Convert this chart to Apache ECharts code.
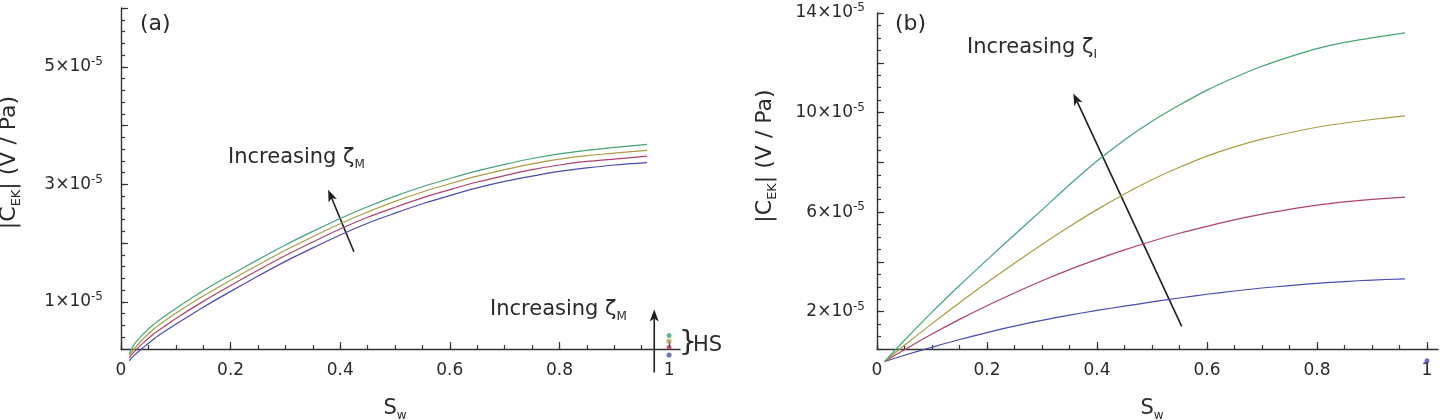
<!DOCTYPE html>
<html>
<head>
<meta charset="utf-8">
<script src="https://cdn.jsdelivr.net/npm/echarts@6/dist/echarts.min.js"></script>
<style>
  html, body { margin: 0; padding: 0; background: #fff; }
  #main { width: 1446px; height: 420px; }
</style>
</head>
<body>
<div id="main"></div>
<script>
// values of |C_EK| are in units of 1e-5 V/Pa

// panel (a): increasing zeta_M
var swA = [0.015, 0.025, 0.04, 0.06, 0.08, 0.1, 0.15, 0.2, 0.25, 0.3, 0.35, 0.4, 0.45, 0.5,
           0.55, 0.6, 0.65, 0.7, 0.75, 0.8, 0.85, 0.9, 0.96];
var aBlue  = [0.00, 0.10, 0.22, 0.37, 0.50, 0.62, 0.91, 1.18, 1.44, 1.69, 1.92, 2.14, 2.34, 2.51,
              2.67, 2.81, 2.94, 3.05, 3.14, 3.22, 3.28, 3.33, 3.37];
var aRed   = [0.05, 0.16, 0.30, 0.46, 0.59, 0.72, 1.01, 1.28, 1.54, 1.79, 2.02, 2.24, 2.44, 2.61,
              2.77, 2.91, 3.04, 3.15, 3.25, 3.33, 3.39, 3.43, 3.48];
var aOlive = [0.09, 0.21, 0.37, 0.54, 0.68, 0.81, 1.10, 1.37, 1.63, 1.88, 2.11, 2.33, 2.53, 2.71,
              2.87, 3.01, 3.14, 3.25, 3.35, 3.43, 3.49, 3.53, 3.58];
var aGreen = [0.12, 0.29, 0.45, 0.62, 0.76, 0.89, 1.19, 1.46, 1.72, 1.97, 2.20, 2.42, 2.62, 2.80,
              2.96, 3.10, 3.23, 3.34, 3.44, 3.52, 3.58, 3.63, 3.68];
// HS points at Sw = 1 (blue, red, olive, green)
var hsA = [0.10, 0.23, 0.33, 0.43];

// panel (b): increasing zeta_I
var swB = [0.014, 0.05, 0.1, 0.15, 0.2, 0.25, 0.3, 0.35, 0.4, 0.45, 0.5,
           0.55, 0.6, 0.65, 0.7, 0.75, 0.8, 0.85, 0.9, 0.96];
var bBlue  = [0, 0.25, 0.57, 0.88, 1.16, 1.42, 1.65, 1.86, 2.05, 2.22, 2.39,
              2.55, 2.70, 2.83, 2.95, 3.05, 3.14, 3.21, 3.27, 3.32];
var bRed   = [0, 0.47, 1.10, 1.69, 2.24, 2.75, 3.24, 3.69, 4.10, 4.48, 4.83,
              5.15, 5.43, 5.69, 5.92, 6.11, 6.28, 6.41, 6.51, 6.60];
var bOlive = [0, 0.65, 1.52, 2.36, 3.17, 3.95, 4.70, 5.42, 6.10, 6.73, 7.30,
              7.80, 8.25, 8.62, 8.93, 9.19, 9.41, 9.58, 9.72, 9.87];
var bGreen = [0, 0.85, 1.98, 3.05, 4.08, 5.09, 6.09, 7.10, 8.05, 8.90, 9.65,
              10.30, 10.90, 11.41, 11.86, 12.24, 12.57, 12.82, 13.00, 13.20];
var hsB = [0.03];

// ticks
var yLabelA = [1, 3, 5];
var yLabelB = [2, 6, 10, 14];

// arrows, in data coords [x1, y1, x2, y2]
var arrowA1 = [0.425, 1.855, 0.378, 2.91];
var arrowA2 = [0.973, -0.2, 0.973, 0.87];
var arrowB  = [0.554, 1.41, 0.357, 10.77];

var colors = ['#4b4bb4', '#b0406e', '#aa9c44', '#44a474'];
var FONT = 'DejaVu Sans';
var INK = '#2a2a2a';
var axisColor = '#333';

// plot frames
var A = { left: 121, top: 8, width: 559, height: 341, xmax: 1.02, ymin: 0.2, ymax: 6 };
var B = { left: 877, top: 13, width: 561, height: 336, xmax: 1.02, ymin: 0.5, ymax: 14 };

function pair(xs, ys) {
    return xs.map(function (x, i) { return [x, ys[i]]; });
}

function baseGrid(l, t, w, h) {
    return { left: l, top: t, width: w, height: h, containLabel: false, outerBoundsMode: 'none' };
}

function tickStyle(len) {
    return { show: true, inside: true, length: len, lineStyle: { color: axisColor, width: 1.2 } };
}

// empty labels keep the ticks drawn
var noLabel = { show: true, formatter: function () { return ''; } };

var labelRich = {
    b: { fontSize: 17, fontFamily: FONT, color: INK, lineHeight: 22 },
    s: { fontSize: 12, fontFamily: FONT, color: INK, lineHeight: 12, verticalAlign: 'top' }
};

var grids = [], xAxes = [], yAxes = [];

function panel(P, yMajorStep, yMinorStep, yLabels, labelMargin, nameShift) {
    var g = grids.length;
    // main frame: axis lines, y minor ticks
    grids.push(baseGrid(P.left, P.top, P.width, P.height));
    // x ticks / labels on [0, 1]
    grids.push(baseGrid(P.left, P.top, P.width / P.xmax, P.height));
    // y major ticks / labels from the first major to the top
    var firstMajor = yMajorStep;
    var pxPerUnit = P.height / (P.ymax - P.ymin);
    grids.push(baseGrid(P.left, P.top, P.width, (P.ymax - firstMajor) * pxPerUnit));

    var xi = xAxes.length, yi = yAxes.length;
    xAxes.push({
        type: 'value', gridIndex: g, position: 'bottom', min: 0, max: P.xmax,
        axisLine: { show: true, onZero: false, lineStyle: { color: axisColor, width: 1.4 } },
        axisTick: { show: false }, axisLabel: { show: false }, splitLine: { show: false }
    });
    xAxes.push({
        type: 'value', gridIndex: g + 1, position: 'bottom', min: 0, max: 1, interval: 0.05,
        axisLine: { show: false, onZero: false },
        axisTick: tickStyle(4), axisLabel: noLabel, splitLine: { show: false }
    });
    xAxes.push({
        type: 'value', gridIndex: g + 1, position: 'bottom', min: 0, max: 1, interval: 0.2,
        axisLine: { show: false, onZero: false },
        axisTick: tickStyle(7),
        axisLabel: { show: true, margin: 13, fontSize: 17, fontFamily: FONT, color: INK },
        splitLine: { show: false },
        name: '{s|S}{w|w}', nameLocation: 'middle', nameGap: 47,
        nameTextStyle: {
            rich: {
                s: { fontSize: 21, fontFamily: FONT, color: INK, lineHeight: 26 },
                w: { fontSize: 12, fontFamily: FONT, color: INK, lineHeight: 12, verticalAlign: 'bottom' }
            }
        }
    });
    xAxes.push({ type: 'value', gridIndex: g + 2, position: 'bottom', show: false });

    yAxes.push({
        type: 'value', gridIndex: g, position: 'left', min: P.ymin, max: P.ymax, interval: yMinorStep,
        axisLine: { show: true, onZero: false, lineStyle: { color: axisColor, width: 1.4 } },
        axisTick: tickStyle(4), axisLabel: noLabel, splitLine: { show: false },
        name: '|C{e|EK}| (V / Pa)', nameLocation: 'middle', nameGap: 98,
        nameTextStyle: {
            fontSize: 22, fontFamily: FONT, color: INK, lineHeight: 28,
            padding: [0, 0, 0, nameShift],
            rich: { e: { fontSize: 13, fontFamily: FONT, color: INK, lineHeight: 13, verticalAlign: 'bottom' } }
        }
    });
    yAxes.push({ type: 'value', gridIndex: g + 1, position: 'left', show: false });
    yAxes.push({
        type: 'value', gridIndex: g + 2, position: 'left', min: firstMajor, max: P.ymax, interval: yMajorStep,
        axisLine: { show: false, onZero: false },
        axisTick: tickStyle(7),
        axisLabel: {
            show: true, margin: labelMargin, rich: labelRich,
            formatter: function (v) {
                return yLabels.indexOf(v) >= 0 ? '{b|' + v + '×10}{s|-5}' : '';
            }
        },
        splitLine: { show: false }
    });
    return { x: xi, y: yi };
}

var axA = panel(A, 1, 0.2, yLabelA, 18, 32);
var axB = panel(B, 2, 0.5, yLabelB, 12, 50);

function curve(xs, ys, color, ax) {
    return {
        type: 'line', xAxisIndex: ax.x, yAxisIndex: ax.y,
        data: pair(xs, ys), showSymbol: false, smooth: 0.3, clip: false,
        lineStyle: { color: color, width: 1.2 }, silent: true
    };
}

function dot(x, y, color, ax) {
    return {
        type: 'scatter', xAxisIndex: ax.x, yAxisIndex: ax.y, data: [[x, y]],
        symbolSize: 5, clip: false, silent: true, itemStyle: { color: color }
    };
}

var chart = echarts.init(document.getElementById('main'));
chart.setOption({
    animation: false,
    backgroundColor: '#fff',
    grid: grids,
    xAxis: xAxes,
    yAxis: yAxes,
    series: [
        curve(swA, aBlue, colors[0], axA),
        curve(swA, aRed, colors[1], axA),
        curve(swA, aOlive, colors[2], axA),
        curve(swA, aGreen, colors[3], axA),
        dot(1, hsA[0], colors[0], axA),
        dot(1, hsA[1], colors[1], axA),
        dot(1, hsA[2], colors[2], axA),
        dot(1, hsA[3], colors[3], axA),
        curve(swB, bBlue, colors[0], axB),
        curve(swB, bRed, colors[1], axB),
        curve(swB, bOlive, colors[2], axB),
        curve(swB, bGreen, colors[3], axB),
        dot(1, hsB[0], colors[0], axB)
    ]
});

// annotations
var subRich = {
    t: { fontSize: 21, fontFamily: FONT, color: INK, lineHeight: 26 },
    m: { fontSize: 12, fontFamily: FONT, color: INK, lineHeight: 12, verticalAlign: 'bottom' }
};

function note(x, y, text, size) {
    return {
        type: 'text', x: x, y: y, silent: true,
        style: { text: text, rich: subRich, fontSize: size || 21, fontFamily: FONT, fill: INK, verticalAlign: 'middle' }
    };
}

function arrow(ax, a) {
    var p1 = chart.convertToPixel({ xAxisIndex: ax.x, yAxisIndex: ax.y }, [a[0], a[1]]);
    var p2 = chart.convertToPixel({ xAxisIndex: ax.x, yAxisIndex: ax.y }, [a[2], a[3]]);
    var dx = p2[0] - p1[0], dy = p2[1] - p1[1];
    var len = Math.sqrt(dx * dx + dy * dy);
    var ux = dx / len, uy = dy / len, nx = -uy, ny = ux;
    var hl = 12, hw = 4.5, notch = 9;
    var bx = p2[0] - ux * hl, by = p2[1] - uy * hl;
    var cx = p2[0] - ux * notch, cy = p2[1] - uy * notch;
    return [
        { type: 'line', silent: true, shape: { x1: p1[0], y1: p1[1], x2: cx, y2: cy }, style: { stroke: '#1e1e1e', lineWidth: 1.6 } },
        { type: 'polygon', silent: true, shape: { points: [[p2[0], p2[1]], [bx + nx * hw, by + ny * hw], [cx, cy], [bx - nx * hw, by - ny * hw]] }, style: { fill: '#1e1e1e' } }
    ];
}

chart.setOption({
    graphic: [
        note(140, 24, '(a)', 22),
        note(895, 24, '(b)', 22),
        note(228, 158, '{t|Increasing ζ}{m|M}'),
        note(490, 310, '{t|Increasing ζ}{m|M}'),
        note(967, 48, '{t|Increasing ζ}{m|I}'),
        note(679, 344, '}', 28),
        note(693, 346, 'HS')
    ].concat(arrow(axA, arrowA1), arrow(axA, arrowA2), arrow(axB, arrowB))
});
</script>
</body>
</html>
